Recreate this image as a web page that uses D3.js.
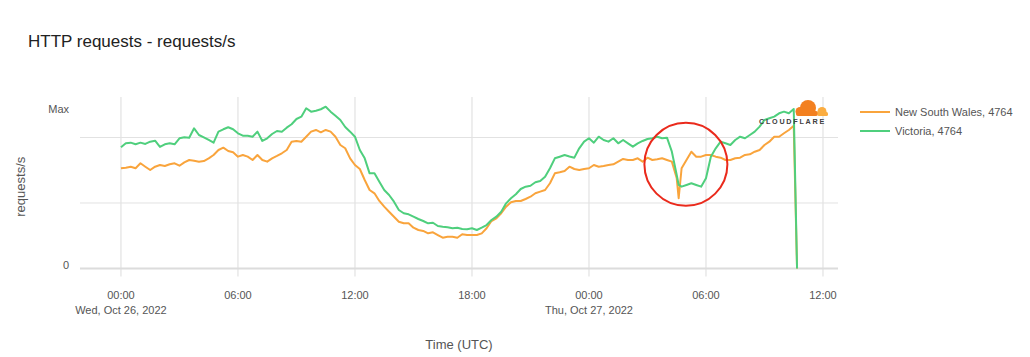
<!DOCTYPE html>
<html><head><meta charset="utf-8">
<script src="https://cdn.jsdelivr.net/npm/d3@7"></script>
<style>
body{margin:0;background:#fff;}
svg{display:block;font-family:"Liberation Sans",Arial,Helvetica,sans-serif;}
</style>
</head><body><svg id="c" width="1030" height="357"></svg>
<script>
// ---- data (hours after Wed, Oct 26, 2022 00:00 UTC) ----
const hours = [0,0.25,0.5,0.75,1,1.25,1.5,1.75,2,2.25,2.5,2.75,3,3.25,3.5,3.75,4,4.25,4.5,4.75,
5,5.25,5.5,5.75,6,6.25,6.5,6.75,7,7.25,7.5,7.75,8,8.25,8.5,8.75,9,9.25,9.5,9.75,
10,10.25,10.5,10.75,11,11.25,11.5,11.75,12,12.25,12.5,12.75,13,13.25,13.5,13.75,14,14.25,14.5,14.75,
15,15.25,15.5,15.75,16,16.25,16.5,16.75,17,17.25,17.5,17.75,18,18.25,18.5,18.75,19,19.25,19.5,19.75,
20,20.25,20.5,20.75,21,21.25,21.5,21.75,22,22.25,22.5,22.75,23,23.25,23.5,23.75,24,24.25,24.5,24.75,
25,25.25,25.5,25.75,26,26.25,26.5,26.75,27,27.25,27.5,27.75,28,28.25,28.5,28.6,28.75,29,29.25,29.5,29.75,
30,30.25,30.5,30.75,31,31.25,31.5,31.75,32,32.25,32.5,32.75,33,33.25,33.5,33.75,34,34.25,34.5,34.67];

const nswValues = [1530,1539,1554,1530,1606,1554,1504,1554,1580,1565,1591,1606,1569,1621,1656,1646,1631,1641,1682,1733,
1809,1844,1794,1774,1707,1733,1707,1656,1733,1656,1631,1682,1718,1759,1809,1936,1947,1936,2012,2089,
2115,2079,2115,2089,2012,1885,1835,1682,1580,1519,1351,1198,1148,1031,944,867,791,714,690,690,
623,588,573,537,553,511,470,486,486,470,522,511,511,511,537,614,725,766,843,944,
1011,1031,1031,1061,1096,1148,1173,1198,1301,1453,1469,1489,1554,1519,1504,1519,1530,1580,1554,1565,
1580,1591,1631,1672,1656,1656,1682,1631,1692,1656,1667,1682,1656,1631,1377,1072,1530,1656,1783,1707,1707,
1733,1733,1707,1692,1656,1656,1682,1692,1733,1743,1783,1809,1885,1936,2012,2012,2064,2115,2180,0];

const vicValues = [1850,1911,1921,1896,1921,1901,1936,1951,1855,1896,1911,1896,1988,2003,1997,2140,2038,2003,1962,1921,
2089,2125,2156,2125,2064,2027,2027,2012,2089,1947,1988,2053,2099,2089,2150,2202,2282,2318,2446,2394,
2409,2431,2470,2394,2333,2267,2160,2089,2012,1809,1682,1453,1453,1325,1198,1122,1020,893,843,827,
791,756,725,690,699,649,638,629,614,623,603,598,614,588,623,664,740,791,867,995,
1072,1133,1214,1249,1264,1316,1336,1401,1530,1682,1707,1733,1710,1692,1835,1936,1988,1921,2012,1962,
1936,1988,1911,1962,1911,1860,1911,1947,1977,1988,2012,1988,1997,1783,1427,1275,1249,1275,1301,1275,1249,
1377,1707,1835,1936,1911,1885,1962,2012,1988,2038,2089,2165,2267,2293,2318,2369,2394,2369,2435,0];

const seriesNames = ["New South Wales, 4764", "Victoria, 4764"];
const seriesColors = ["#f9a43c", "#4fcf7d"];

const xTickHours = [0, 6, 12, 18, 24, 30, 36];
const xTickLabels = [["00:00","Wed, Oct 26, 2022"],["06:00"],["12:00"],["18:00"],["00:00","Thu, Oct 27, 2022"],["06:00"],["12:00"]];
const xDomainHours = [-2.1, 36.77];
const yGridValues = [1000, 2000];
const yTickValues = [0, 2390];
const yTickLabels = ["0", "Max"];
const yDomain = [0, 2618];
const annotationHour = 28.97, annotationValue = 1591;

// ---- layout ----
const svg = d3.select("#c");
const L = 80, R = 838, T = 97, B = 268.5;
const base = Date.UTC(2022, 9, 26);
const toDate = h => new Date(base + h * 3600e3);

const x = d3.scaleUtc().domain(xDomainHours.map(toDate)).range([L, R]);
const y = d3.scaleLinear().domain(yDomain).range([B, T]);

// title
svg.append("text").attr("x", 28).attr("y", 47).attr("font-size", 17).attr("fill", "#222")
  .text("HTTP requests - requests/s");

// vertical grid
svg.append("g").selectAll("line").data(xTickHours).join("line")
  .attr("x1", d => x(toDate(d))).attr("x2", d => x(toDate(d)))
  .attr("y1", T).attr("y2", B + 8)
  .attr("stroke", "#e8e8e8").attr("stroke-width", 1.5);

// horizontal grid
svg.append("g").selectAll("line").data(yGridValues).join("line")
  .attr("x1", L).attr("x2", R).attr("y1", d => y(d)).attr("y2", d => y(d))
  .attr("stroke", "#e2e2e2").attr("stroke-width", 1);
svg.append("line").attr("x1", L).attr("x2", R).attr("y1", y(0)).attr("y2", y(0))
  .attr("stroke", "#dcdcdc").attr("stroke-width", 2);

// y tick labels
svg.append("g").selectAll("text").data(yTickValues).join("text")
  .attr("x", 69).attr("y", d => y(d) - 3).attr("dy", "0.35em")
  .attr("text-anchor", "end").attr("font-size", 11).attr("fill", "#555")
  .text((d, i) => yTickLabels[i]);

// x tick labels
const xl = svg.append("g").selectAll("text").data(xTickHours).join("text")
  .attr("text-anchor", "middle").attr("font-size", 11).attr("fill", "#555");
xl.each(function(d, i) {
  const t = d3.select(this);
  xTickLabels[i].forEach((s, j) => {
    t.append("tspan").attr("x", x(toDate(d))).attr("y", 299 + j * 15).text(s);
  });
});

// axis titles
svg.append("text").attr("transform", `translate(20,${(T + B) / 2 + 4}) rotate(-90)`)
  .attr("text-anchor", "middle").attr("dy", "0.35em").attr("font-size", 13).attr("fill", "#555")
  .text("requests/s");
svg.append("text").attr("x", (L + R) / 2).attr("y", 349).attr("text-anchor", "middle")
  .attr("font-size", 13).attr("fill", "#555").text("Time (UTC)");

// lines
const series = [nswValues, vicValues];
const line = d3.line().x((d, i) => x(toDate(hours[i]))).y(d => y(d)).curve(d3.curveLinear);
series.forEach((vals, k) => {
  svg.append("path").datum(vals).attr("d", line)
    .attr("fill", "none").attr("stroke", seriesColors[k]).attr("stroke-width", 2)
    .attr("stroke-linejoin", "round");
});

// legend
seriesNames.forEach((n, k) => {
  const ly = 112 + k * 19;
  svg.append("line").attr("x1", 860).attr("x2", 890).attr("y1", ly).attr("y2", ly)
    .attr("stroke", seriesColors[k]).attr("stroke-width", 2);
  svg.append("text").attr("x", 895).attr("y", ly).attr("dy", "0.35em")
    .attr("font-size", 11).attr("fill", "#555").text(n);
});

// annotation circle
svg.append("circle").attr("cx", x(toDate(annotationHour))).attr("cy", y(annotationValue)).attr("r", 41.5)
  .attr("fill", "none").attr("stroke", "#ea2a1c").attr("stroke-width", 2);

// cloudflare logo
const lg = svg.append("g").attr("transform", "translate(759,99)");
lg.append("circle").attr("cx", 49).attr("cy", 9).attr("r", 8).attr("fill", "#f38020");
lg.append("circle").attr("cx", 41).attr("cy", 12.5).attr("r", 4.5).attr("fill", "#f38020");
lg.append("rect").attr("x", 37).attr("y", 12).attr("width", 22).attr("height", 5).attr("rx", 2).attr("fill", "#f38020");
lg.append("circle").attr("cx", 63).attr("cy", 12.5).attr("r", 4.5).attr("fill", "#fbad41");
lg.append("rect").attr("x", 58.5).attr("y", 13).attr("width", 10.5).attr("height", 4).attr("rx", 1.5).attr("fill", "#fbad41");
lg.append("text").attr("x", 0).attr("y", 24.5).attr("font-size", 7.2).attr("font-weight", "bold")
  .attr("letter-spacing", 1.75).attr("fill", "#404041").text("CLOUDFLARE");
</script>
</body></html>
